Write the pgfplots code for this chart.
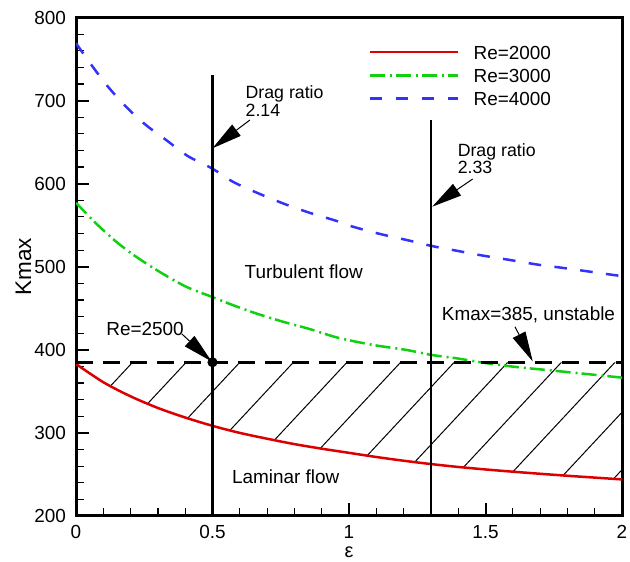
\documentclass[border=0pt]{standalone}
\usepackage{fontspec}
\setmainfont{Liberation Sans}
\usepackage{pgfplots}
\pgfplotsset{compat=1.18}
\usepgfplotslibrary{fillbetween}
\usetikzlibrary{patterns.meta, arrows.meta}

\definecolor{reRed}{RGB}{220,0,0}
\definecolor{reGreen}{RGB}{16,208,16}
\definecolor{reBlue}{RGB}{50,50,250}

\begin{document}
\begin{tikzpicture}
\begin{axis}[
    scale only axis, width=273bp, height=249.25bp,
    xmin=0, xmax=2, ymin=200, ymax=800,
    xtick={0,0.5,1,1.5,2}, ytick={200,300,...,800},
    minor x tick num=4, minor y tick num=4,
    tick align=inside, tick pos=left,
    major tick length=6.5bp, minor tick length=4bp,
    every major tick/.append style={black, line width=1bp},
    every minor tick/.append style={black, line width=0.6bp},
    axis line style={line width=1.5bp},
    /pgf/number format/assume math mode=true,
    ticklabel style={font=\fontsize{9.5}{11}\selectfont},
    xticklabel style={yshift=-1.3bp},
    yticklabel style={xshift=-1.5bp},
    xlabel={ε}, ylabel={Kmax},
    every axis x label/.style={at={(axis description cs:0.5,-0.072)}, anchor=center,
        font=\fontsize{10}{12}\selectfont},
    every axis y label/.style={at={(axis description cs:-0.096,0.5)}, anchor=center,
        rotate=90, font=\fontsize{11.3}{13}\selectfont},
    legend style={at={(0.535,0.945)}, anchor=north west, draw=none, fill=none,
        inner sep=0pt, row sep=4.7bp, font=\fontsize{9.5}{11}\selectfont,
        nodes={inner sep=0pt, text height=6.9bp, text depth=0bp},
        /tikz/every odd column/.append style={column sep=7.3bp}},
    legend cell align=left,
    legend image code/.code={\draw[#1] (0bp,0bp) -- (44bp,0bp);},
]

% Re = 2000
\addplot[reRed, line width=1.25bp, smooth, name path=lam] coordinates {
  (0,383) (0.1,361) (0.2,344) (0.3,330) (0.4,318.5) (0.5,308.5)
  (0.6,300) (0.7,293) (0.8,286.5) (0.9,281) (1.0,276) (1.1,271)
  (1.2,266.5) (1.3,262.5) (1.4,259) (1.5,256) (1.6,253.3) (1.7,250.8)
  (1.8,248.4) (1.9,246.2) (2,244)};

% Re = 3000
\addplot[reGreen, line width=1.25bp, smooth,
    dash pattern=on 7.5bp off 2.5bp on 1bp off 2bp] coordinates {
  (0,577) (0.073,552.3) (0.147,530.2) (0.22,512.1) (0.305,494.1) (0.403,476)
  (0.5,463.5) (0.574,453.9) (0.659,443.9) (0.757,433.9) (0.855,425.1)
  (0.96,414.5) (1.089,405.8) (1.211,399.8) (1.303,393.8) (1.394,389.8)
  (1.492,384.5) (1.602,379.7) (1.724,375.7) (1.846,371.7) (2,366.5)};

% Re = 4000
\addplot[reBlue, line width=1.25bp, smooth,
    dash pattern=on 6.3bp off 6.7bp] coordinates {
  (0,769) (0.061,740.8) (0.122,714.8) (0.189,690.7) (0.256,670.6) (0.33,652.6)
  (0.409,633.3) (0.5,618) (0.574,602.4) (0.659,589.6) (0.757,576.4)
  (0.855,565) (0.952,555.4) (1.01,548.6) (1.114,539.4) (1.211,532.2)
  (1.303,525) (1.394,519.3) (1.492,513.3) (1.59,508.1) (1.7,502.1)
  (1.797,498) (1.968,490.1) (2,489)};

\legend{Re=2000, Re=3000, Re=4000}

% critical Kmax
\addplot[black, line width=1.25bp, dash pattern=on 8.5bp off 5bp, name path=crit, forget plot]
  coordinates {(0,385) (2,385)};

\addplot[pattern={Lines[angle=47, distance=19.6bp, line width=0.5bp]}, pattern color=black, forget plot]
  fill between[of=lam and crit];

% drag ratio lines
\addplot[black, line width=1.3bp, forget plot] coordinates {(0.5,200) (0.5,730.8)};
\addplot[black, line width=1.3bp, forget plot] coordinates {(1.3,200) (1.3,677)};

\addplot[only marks, mark=*, mark size=2.3bp, black, forget plot] coordinates {(0.5,385)};

% arrows
\addplot[black, line width=0.5bp, -{Triangle[length=15bp, width=7bp]}, forget plot]
  coordinates {(0.637,676.6) (0.5,642.6)};
\addplot[black, line width=0.5bp, -{Triangle[length=15bp, width=7bp]}, forget plot]
  coordinates {(1.453,605.6) (1.305,572.3)};
\addplot[black, line width=0.5bp, -{Triangle[length=15bp, width=7bp]}, forget plot]
  coordinates {(0.388,419) (0.497,386)};
\addplot[black, line width=0.5bp, -{Triangle[length=15bp, width=7bp]}, forget plot]
  coordinates {(1.608,427.8) (1.673,386)};

% labels
\begin{scope}[every node/.style={inner sep=0pt, anchor=base west}]
\node[font=\fontsize{8.9}{10}\selectfont] at (axis cs:0.62,702.4) {Drag ratio};
\node[font=\fontsize{8.9}{10}\selectfont] at (axis cs:0.62,681.4) {2.14};
\node[font=\fontsize{8.9}{10}\selectfont] at (axis cs:1.397,632.5) {Drag ratio};
\node[font=\fontsize{8.9}{10}\selectfont] at (axis cs:1.397,612.5) {2.33};
\node[font=\fontsize{9.5}{11}\selectfont] at (axis cs:0.6165,485.8) {Turbulent flow};
\node[font=\fontsize{9.5}{11}\selectfont] at (axis cs:0.57,238.5) {Laminar flow};
\node[font=\fontsize{9.5}{11}\selectfont] at (axis cs:1.339,434.7) {Kmax=385, unstable};
\node[font=\fontsize{9.5}{11}\selectfont] at (axis cs:0.11,417.5) {Re=2500};
\end{scope}
\end{axis}
\pgfresetboundingbox
\path ([shift={(-38bp,-23bp)}]current axis.south west) rectangle ([shift={(4bp,8.75bp)}]current axis.north east);
\end{tikzpicture}
\end{document}
